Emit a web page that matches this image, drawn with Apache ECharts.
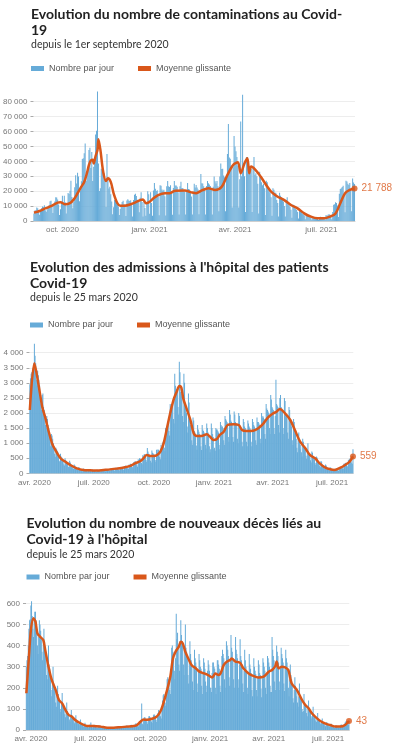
<!DOCTYPE html>
<html>
<head>
<meta charset="utf-8">
<script src="https://cdn.jsdelivr.net/npm/echarts@6/dist/echarts.min.js"></script>
<style>
html, body { margin: 0; padding: 0; background: #fff; }
#main { width: 397px; height: 750px; }
</style>
</head>
<body>
<div id="main"></div>
<script>
// ---- contaminations, depuis le 1er septembre 2020 (une ligne = une semaine, mar -> lun)
var casDebut = '2020-09-01';
var casJour = [
  5000, 7000, 7200, 9000, 8600, 7100, 4200,
  6500, 8600, 9800, 9400, 10600, 7200, 6200,
  7900, 9800, 10600, 13200, 13500, 10600, 5300,
  10000, 13000, 16000, 15800, 14400, 11100, 4100,
  7900, 12800, 16900, 12100, 16900, 12600, 5100,
  10500, 18700, 18100, 20300, 27000, 16100, 8500,
  12900, 22600, 30600, 25100, 32400, 29800, 13200,
  20500, 26700, 41600, 42000, 45400, 52000, 26800,
  33400, 36400, 47600, 49200, 35600, 46300, 26800,
  36300, 40600, 58000, 60500, 86800, 38600, 20200,
  22000, 35000, 33000, 33000, 32000, 27000, 9400,
  45000, 28000, 21800, 22900, 17900, 13000, 4500,
  9200, 14000, 13600, 12600, 11000, 9800, 4000,
  8000, 10900, 12700, 13500, 11200, 11000, 3400,
  13700, 14600, 13700, 13400, 13900, 11500, 3100,
  14000, 17600, 18300, 16800, 14300, 12800, 5900,
  15600, 19300, 12800, 3100, 13600, 8800, 3500,
  11400, 20000, 18000, 4900, 19300, 12000, 3600,
  20500, 25400, 21700, 20200, 20600, 16600, 3900,
  23900, 23600, 21200, 20300, 20900, 16600, 3700,
  23300, 26800, 23300, 22800, 23900, 18400, 4200,
  22100, 26900, 23800, 23800, 22900, 19200, 4300,
  23300, 26400, 22100, 22100, 20600, 19700, 4300,
  20700, 25400, 21500, 21200, 20300, 16500, 4300,
  19600, 25000, 22500, 24100, 22400, 21200, 4600,
  20100, 31500, 25300, 25200, 23300, 22000, 4400,
  23500, 26800, 25300, 24400, 23500, 21800, 4300,
  22900, 29900, 26600, 25200, 26900, 23300, 6500,
  29900, 38500, 34900, 35100, 30500, 29300, 6500,
  30500, 45000, 65000, 42600, 41800, 37000, 9000,
  36000, 57000, 50000, 46700, 43000, 37000, 9000,
  28000, 66700, 30000, 84600, 38000, 30000, 6000,
  43000, 43000, 41000, 37000, 33000, 35000, 6000,
  36000, 43000, 31000, 32000, 30000, 25000, 5000,
  33000, 30000, 26000, 24000, 25000, 22000, 4000,
  27000, 26000, 22000, 20000, 19000, 16000, 3500,
  22000, 21000, 19000, 19000, 14000, 12000, 3000,
  19000, 17000, 16000, 15000, 13000, 10000, 3000,
  14000, 16000, 12000, 11000, 9500, 7500, 2200,
  11000, 10600, 9000, 8200, 7300, 6000, 1600,
  7500, 6900, 6200, 5000, 4500, 3800, 1200,
  4000, 4200, 3500, 3300, 2900, 2100, 900,
  2500, 2700, 2400, 2100, 1900, 1600, 700,
  2600, 2800, 2600, 2600, 2100, 1800, 800,
  4000, 3400, 4200, 4500, 4300, 3100, 1200,
  6100, 10900, 11200, 12500, 12100, 10400, 2600,
  18200, 21500, 21900, 22800, 23600, 17300, 5800,
  27000, 26500, 24900, 24200, 25500, 21300, 6500,
  28500, 25900, 24800
];
// moyenne glissante : jour (depuis le debut) et valeur
var casMoyJour = [0, 6, 12, 18, 25, 28, 33, 38, 42, 46, 50, 53, 56, 58, 60, 62, 63, 65, 67, 68, 70, 73, 76, 78, 81, 84, 88, 91, 96, 102, 107, 112, 115, 118, 121, 126, 131, 138, 143, 148, 159, 166, 171, 177, 184, 191, 198, 204, 210, 215, 218, 222, 225, 227, 229, 234, 239, 245, 250, 257, 264, 271, 278, 285, 292, 299, 306, 312, 318, 323, 328, 333, 338];
var casMoy = [5600, 6700, 8400, 10000, 12300, 12600, 11200, 12000, 14500, 18600, 23000, 26200, 32400, 37600, 40500, 41000, 38500, 43600, 47600, 54800, 48000, 33000, 26800, 28600, 26200, 18600, 11900, 10300, 10300, 11200, 12500, 14000, 14500, 11900, 12500, 15200, 17400, 18600, 18600, 20100, 20400, 19200, 18600, 20500, 21900, 20800, 23000, 30900, 37600, 39400, 32000, 38700, 42000, 32000, 36500, 34000, 29800, 24000, 19700, 16300, 14000, 10700, 8500, 5100, 2900, 1800, 1800, 2900, 5100, 11900, 18600, 20800, 21788];

// ---- admissions a l'hopital, depuis le 25 mars 2020 (une ligne = une semaine, mer -> mar)
var hospDebut = '2020-03-25';
var hospJour = [
  2950, 3150, 3300, 3350, 3050, 3500, 3650,
  4300, 3900, 3650, 3100, 2900, 3400, 3250,
  3100, 2900, 2700, 2300, 2100, 2600, 2650,
  2200, 2100, 1950, 1600, 1500, 1900, 1800,
  1600, 1500, 1350, 1050, 900, 1300, 1250,
  1150, 1000, 900, 650, 550, 850, 800,
  750, 700, 620, 420, 380, 650, 560,
  520, 480, 430, 300, 260, 500, 430,
  400, 330, 330, 220, 200, 420, 360,
  290, 270, 240, 170, 140, 290, 260,
  210, 200, 180, 120, 100, 210, 180,
  150, 140, 130, 90, 70, 160, 140,
  120, 115, 110, 75, 60, 130, 120,
  115, 110, 100, 75, 60, 125, 110,
  100, 100, 95, 65, 55, 115, 105,
  110, 105, 100, 70, 60, 130, 110,
  125, 120, 110, 80, 65, 140, 125,
  140, 135, 125, 90, 75, 165, 145,
  160, 150, 140, 100, 85, 180, 160,
  180, 170, 165, 115, 95, 205, 185,
  210, 200, 190, 135, 110, 240, 215,
  255, 245, 230, 165, 140, 290, 260,
  320, 310, 290, 210, 170, 370, 330,
  400, 390, 370, 270, 220, 470, 430,
  500, 490, 470, 340, 300, 600, 540,
  620, 640, 600, 440, 380, 840, 720,
  650, 620, 580, 420, 360, 760, 680,
  660, 640, 610, 440, 380, 780, 700,
  790, 780, 740, 540, 470, 950, 860,
  1000, 1050, 1100, 850, 750, 1500, 1450,
  1500, 1600, 1700, 1400, 1250, 2300, 2250,
  2200, 2300, 2350, 1800, 1650, 3300, 2900,
  2750, 2800, 2750, 2200, 1950, 3700, 3350,
  2700, 2650, 2550, 1900, 1700, 3300, 3000,
  2300, 2150, 2000, 1550, 1350, 2650, 2350,
  1750, 1600, 1500, 1100, 950, 1850, 1750,
  1400, 1350, 1300, 920, 780, 1600, 1450,
  1380, 1300, 1250, 900, 770, 1600, 1450,
  1400, 1350, 1300, 950, 820, 1650, 1500,
  1350, 1250, 900, 700, 800, 1650, 1500,
  1300, 1200, 800, 850, 750, 1500, 1450,
  1450, 1400, 1350, 950, 800, 1700, 1600,
  1550, 1550, 1500, 1100, 950, 1900, 1800,
  1750, 1700, 1650, 1200, 1050, 2100, 1950,
  1750, 1700, 1650, 1200, 1050, 2050, 1950,
  1700, 1650, 1600, 1150, 1000, 2000, 1900,
  1550, 1500, 1450, 1050, 900, 1800, 1700,
  1550, 1500, 1450, 1050, 900, 1750, 1650,
  1550, 1500, 1450, 1050, 900, 1800, 1700,
  1600, 1550, 1500, 1100, 950, 1850, 1700,
  1700, 1650, 1600, 1150, 1000, 2000, 1850,
  1900, 1850, 1800, 1300, 1150, 2300, 2150,
  2100, 2050, 2000, 1500, 1300, 2600, 2450,
  2200, 2150, 2100, 1500, 1300, 1900, 3100,
  2300, 2250, 2200, 1600, 1350, 2500, 2600,
  2200, 2150, 2050, 1500, 1300, 2500, 2400,
  1950, 1900, 1850, 1350, 1150, 2200, 2100,
  1750, 1650, 1550, 1100, 950, 1800, 1700,
  1350, 1300, 1150, 850, 700, 1300, 1350,
  1050, 800, 950, 700, 560, 1150, 1050,
  880, 850, 800, 580, 480, 700, 1000,
  660, 640, 600, 430, 360, 720, 680,
  520, 500, 470, 340, 280, 560, 520,
  380, 360, 340, 250, 200, 410, 380,
  270, 260, 240, 170, 140, 290, 260,
  180, 175, 165, 115, 95, 200, 180,
  135, 130, 125, 85, 70, 150, 140,
  150, 150, 145, 100, 85, 190, 180,
  200, 230, 230, 165, 140, 320, 300,
  340, 350, 340, 250, 220, 450, 430,
  480, 500, 480, 360, 320, 800
];
var hospMoyJour = [0, 7, 13, 19, 24, 29, 34, 39, 47, 54, 62, 72, 82, 93, 103, 113, 123, 133, 144, 154, 161, 169, 174, 179, 184, 190, 195, 200, 205, 210, 215, 220, 225, 229, 232, 235, 240, 246, 251, 256, 263, 271, 276, 281, 286, 291, 297, 303, 312, 320, 325, 332, 342, 350, 358, 365, 373, 378, 383, 391, 399, 406, 414, 422, 429, 437, 444, 452, 460, 467, 475, 483, 490, 495];
var hospMoy = [2100, 3650, 2980, 2210, 1820, 1380, 995, 775, 500, 390, 275, 165, 110, 100, 90, 110, 130, 155, 190, 245, 330, 400, 497, 608, 575, 575, 608, 718, 995, 1492, 1990, 2430, 2707, 2895, 2850, 2486, 2155, 1768, 1326, 1238, 1238, 1293, 1215, 1105, 1127, 1271, 1381, 1602, 1624, 1602, 1437, 1403, 1414, 1492, 1658, 1856, 1990, 2044, 2133, 1990, 1768, 1437, 1050, 830, 608, 497, 331, 199, 133, 110, 177, 276, 387, 559];

// ---- deces a l'hopital, depuis le 25 mars 2020 (une ligne = une semaine, mer -> mar)
var decesDebut = '2020-03-25';
var decesJour = [
  300, 330, 350, 400, 480, 520, 525,
  590, 610, 540, 480, 440, 520, 560,
  560, 520, 480, 400, 360, 440, 520,
  500, 470, 440, 370, 330, 420, 480,
  420, 380, 350, 260, 240, 320, 400,
  310, 290, 260, 190, 160, 240, 300,
  220, 200, 190, 130, 110, 170, 210,
  170, 150, 140, 100, 85, 130, 175,
  125, 115, 105, 75, 60, 95, 130,
  90, 80, 75, 50, 40, 70, 95,
  70, 65, 60, 40, 32, 55, 70,
  48, 44, 40, 28, 22, 38, 50,
  32, 30, 28, 19, 15, 25, 34,
  24, 22, 20, 14, 11, 18, 25,
  24, 35, 20, 14, 11, 20, 25,
  20, 19, 17, 12, 9, 16, 21,
  18, 16, 15, 10, 8, 14, 18,
  14, 13, 12, 8, 6, 11, 14,
  14, 13, 12, 8, 6, 11, 14,
  14, 13, 12, 8, 7, 11, 15,
  16, 15, 14, 9, 8, 13, 17,
  19, 18, 16, 11, 9, 15, 20,
  21, 20, 18, 13, 10, 17, 23,
  25, 23, 21, 15, 12, 20, 27,
  32, 30, 29, 21, 17, 28, 40,
  46, 48, 125, 30, 25, 45, 60,
  60, 55, 52, 38, 30, 52, 65,
  65, 60, 57, 40, 33, 55, 70,
  75, 70, 66, 47, 38, 62, 80,
  95, 90, 88, 65, 55, 95, 140,
  165, 170, 160, 130, 115, 175, 240,
  250, 240, 230, 190, 170, 290, 390,
  400, 370, 360, 280, 240, 340, 550,
  430, 460, 400, 310, 280, 420, 520,
  450, 420, 400, 310, 260, 380, 500,
  390, 370, 350, 260, 220, 330, 420,
  360, 330, 310, 230, 190, 300, 380,
  340, 320, 300, 220, 180, 280, 360,
  330, 300, 290, 210, 170, 270, 340,
  320, 290, 230, 180, 210, 280, 330,
  310, 280, 200, 200, 180, 270, 320,
  320, 300, 290, 200, 170, 260, 330,
  330, 310, 290, 210, 180, 270, 350,
  380, 360, 340, 240, 200, 320, 420,
  400, 380, 350, 250, 210, 330, 450,
  390, 370, 340, 240, 200, 320, 440,
  380, 360, 340, 240, 200, 310, 430,
  350, 330, 310, 220, 180, 280, 380,
  330, 300, 280, 200, 170, 260, 360,
  310, 290, 270, 190, 160, 250, 340,
  300, 280, 265, 190, 160, 250, 330,
  310, 270, 260, 195, 155, 245, 340,
  320, 300, 280, 200, 170, 260, 350,
  340, 320, 300, 210, 180, 180, 440,
  380, 350, 330, 230, 190, 300, 400,
  370, 350, 320, 230, 190, 290, 390,
  360, 340, 320, 220, 185, 290, 380,
  340, 320, 290, 200, 160, 240, 310,
  260, 240, 220, 150, 130, 190, 250,
  210, 160, 190, 130, 110, 160, 220,
  160, 150, 140, 100, 85, 90, 170,
  130, 120, 115, 80, 65, 105, 140,
  105, 95, 90, 65, 55, 85, 110,
  75, 70, 65, 45, 38, 58, 80,
  52, 48, 45, 32, 26, 40, 55,
  37, 34, 32, 23, 18, 29, 38,
  29, 28, 26, 18, 14, 23, 30,
  21, 20, 18, 13, 10, 16, 22,
  20, 12, 18, 12, 10, 16, 22,
  26, 25, 24, 18, 15, 27, 36,
  40, 42, 40, 30, 26, 45
];
var decesMoyJour = [0, 4, 7, 11, 14, 17, 21, 26, 29, 34, 39, 45, 50, 55, 60, 65, 70, 75, 83, 93, 103, 114, 124, 134, 144, 154, 165, 170, 175, 180, 185, 193, 200, 206, 211, 216, 221, 225, 229, 234, 237, 240, 244, 249, 254, 259, 264, 269, 275, 280, 285, 287, 290, 295, 298, 303, 308, 313, 315, 321, 328, 333, 341, 349, 356, 364, 372, 377, 382, 384, 387, 392, 397, 402, 407, 415, 423, 428, 433, 438, 446, 453, 461, 466, 474, 482, 489, 495];
var decesMoy = [174, 347, 474, 529, 513, 458, 442, 426, 379, 300, 237, 190, 142, 126, 95, 71, 63, 47, 32, 19, 19, 16, 11, 11, 13, 16, 19, 24, 39, 50, 48, 53, 63, 90, 134, 190, 255, 340, 371, 395, 418, 410, 370, 335, 305, 295, 280, 272, 266, 258, 249, 255, 268, 260, 268, 308, 324, 332, 339, 324, 318, 292, 268, 255, 249, 253, 276, 284, 303, 324, 292, 300, 297, 284, 221, 190, 142, 118, 103, 79, 55, 39, 28, 24, 16, 16, 24, 43];

var moisFr = {'01': 'janv.', '04': 'avr.', '07': 'juil.', '10': 'oct.'};
var blue = '#66abd8';
var orange = '#d9571a';
var axisFont = '"Liberation Sans", Arial, sans-serif';

function days(start, n) {
  var out = [];
  var t = Date.parse(start + 'T00:00:00Z');
  for (var i = 0; i < n; i++) {
    out.push(new Date(t + i * 86400000).toISOString().slice(0, 10));
  }
  return out;
}
function isQuarter(index, value) {
  return value.slice(8) === '01' && moisFr[value.slice(5, 7)] !== undefined;
}
function xFmt(value) {
  return moisFr[value.slice(5, 7)] + ' ' + value.slice(0, 4);
}
function yFmt(v) {
  return String(v).replace(/\B(?=(\d{3})+(?!\d))/g, ' ');
}

var panels = [
  { title: 'Evolution du nombre de contaminations au Covid-\n19', sub: 'depuis le 1er septembre 2020',
    start: casDebut, bars: casJour, maDay: casMoyJour, ma: casMoy, max: 80000, step: 10000,
    titleTop: 6.5, legendTop: 64, left: 31,
    grid: { left: 31, top: 101.7, width: 324, height: 119.3 } },
  { title: "Evolution des admissions à l'hôpital des patients\nCovid-19", sub: 'depuis le 25 mars 2020',
    start: hospDebut, bars: hospJour, maDay: hospMoyJour, ma: hospMoy, max: 4000, step: 500,
    titleTop: 259, legendTop: 320.5, left: 30,
    grid: { left: 29.5, top: 352.7, width: 323.8, height: 120.6 } },
  { title: "Evolution du nombre de nouveaux décès liés au\nCovid-19 à l'hôpital", sub: 'depuis le 25 mars 2020',
    start: decesDebut, bars: decesJour, maDay: decesMoyJour, ma: decesMoy, max: 600, step: 100,
    titleTop: 515.7, legendTop: 572.5, left: 26.5,
    grid: { left: 26, top: 603.3, width: 323.3, height: 126.7 } }
];

var option = { animation: false, title: [], legend: [], grid: [], xAxis: [], yAxis: [], series: [] };

panels.forEach(function (p, i) {
  var cats = days(p.start, p.bars.length);
  var last = p.maDay.length - 1;
  option.title.push({
    text: p.title, subtext: p.sub, left: p.left, top: p.titleTop, padding: 0, itemGap: 0,
    textStyle: { fontFamily: 'Lato', fontWeight: 'bold', fontSize: 14, lineHeight: 16, color: '#222' },
    subtextStyle: { fontFamily: 'Lato', fontSize: 10.5, lineHeight: 13, color: '#333' }
  });
  option.legend.push({
    left: p.left, top: p.legendTop, padding: 0, icon: 'rect', itemWidth: 13, itemHeight: 5, itemGap: 24,
    selectedMode: false,
    textStyle: { fontFamily: axisFont, fontSize: 9, color: '#555' },
    data: ['Nombre par jour', 'Moyenne glissante']
  });
  option.grid.push(p.grid);
  option.xAxis.push({
    type: 'category', gridIndex: i, data: cats,
    axisLine: { lineStyle: { color: '#cfcfcf' } },
    axisTick: { interval: isQuarter, alignWithLabel: true, length: 3, lineStyle: { color: '#aaa' } },
    axisLabel: { interval: isQuarter, formatter: xFmt, fontFamily: axisFont, fontSize: 8, color: '#777', margin: 5 }
  });
  option.yAxis.push({
    type: 'value', gridIndex: i, min: 0, max: p.max, interval: p.step,
    axisLine: { show: false },
    axisTick: { show: true, length: 3, lineStyle: { color: '#aaa' } },
    axisLabel: { formatter: yFmt, fontFamily: axisFont, fontSize: 8, color: '#777', margin: 6 },
    splitLine: { lineStyle: { color: '#ededed' } }
  });
  option.series.push({
    name: 'Nombre par jour', type: 'bar', xAxisIndex: i, yAxisIndex: i,
    data: p.bars, barCategoryGap: '20%', clip: false,
    itemStyle: { color: blue }
  });
  option.series.push({
    name: 'Moyenne glissante', type: 'line', xAxisIndex: i, yAxisIndex: i,
    data: p.maDay.map(function (d, k) { return [cats[d], p.ma[k]]; }),
    symbol: 'none', smooth: 0.3, z: 3,
    itemStyle: { color: orange },
    lineStyle: { color: orange, width: 2.5 }
  });
  option.series.push({
    name: 'fin', type: 'scatter', xAxisIndex: i, yAxisIndex: i, z: 4,
    data: [[cats[p.maDay[last]], p.ma[last]]],
    symbolSize: 6, itemStyle: { color: orange },
    label: { show: true, position: 'right', distance: 4, formatter: yFmt(p.ma[last]),
             fontFamily: axisFont, fontSize: 10, color: orange }
  });
});

var chart = echarts.init(document.getElementById('main'));
chart.setOption(option);
</script>
</body>
</html>
